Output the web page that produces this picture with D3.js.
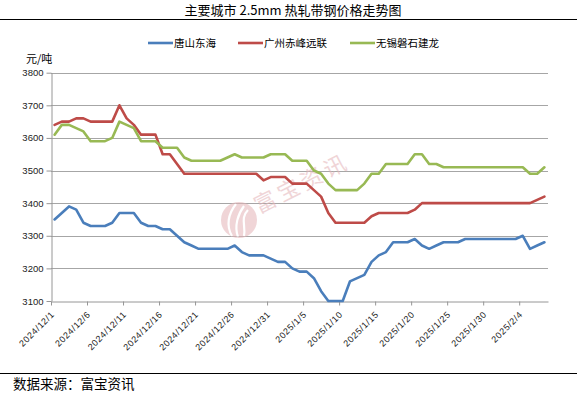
<!DOCTYPE html>
<html>
<head>
<meta charset="utf-8">
<script src="https://d3js.org/d3.v7.min.js"></script>
<style>
	body{
		margin:0;
		background:#fff;
	}
	svg text{
		font-family:"Liberation Sans", Arial, sans-serif;
	}
	.cjk{
		font-family:"Noto Sans CJK SC", sans-serif;
	}
	.grid line{
		stroke:#a6a6a6;
		stroke-width:1;
	}
	.axis path, .axis line{
		stroke:#969696;
	}
	.series{
		fill:none;
		stroke-width:2.6;
		stroke-linejoin:round;
		stroke-linecap:round;
	}
</style>
</head>
<body>
<div id="chart"></div>

<script>
// categories: one per day
var dates = [
	"2024/12/1","2024/12/2","2024/12/3","2024/12/4","2024/12/5","2024/12/6","2024/12/7","2024/12/8","2024/12/9","2024/12/10",
	"2024/12/11","2024/12/12","2024/12/13","2024/12/14","2024/12/15","2024/12/16","2024/12/17","2024/12/18","2024/12/19","2024/12/20",
	"2024/12/21","2024/12/22","2024/12/23","2024/12/24","2024/12/25","2024/12/26","2024/12/27","2024/12/28","2024/12/29","2024/12/30",
	"2024/12/31","2025/1/1","2025/1/2","2025/1/3","2025/1/4","2025/1/5","2025/1/6","2025/1/7","2025/1/8","2025/1/9",
	"2025/1/10","2025/1/11","2025/1/12","2025/1/13","2025/1/14","2025/1/15","2025/1/16","2025/1/17","2025/1/18","2025/1/19",
	"2025/1/20","2025/1/21","2025/1/22","2025/1/23","2025/1/24","2025/1/25","2025/1/26","2025/1/27","2025/1/28","2025/1/29",
	"2025/1/30","2025/1/31","2025/2/1","2025/2/2","2025/2/3","2025/2/4","2025/2/5","2025/2/6","2025/2/7"
];

var seriesNames = ["唐山东海", "广州赤峰远联", "无锡磐石建龙"];
var seriesColors = ["#4a7ebb", "#be4b48", "#98b954"];

var tangshan = [3350,3370,3390,3380,3340,3330,3330,3330,3340,3370,
	3370,3370,3340,3330,3330,3320,3320,3300,3280,3270,
	3260,3260,3260,3260,3260,3270,3250,3240,3240,3240,
	3230,3220,3220,3200,3190,3190,3170,3130,3100,3100,
	3100,3160,3170,3180,3220,3240,3250,3280,3280,3280,
	3290,3270,3260,3270,3280,3280,3280,3290,3290,3290,
	3290,3290,3290,3290,3290,3300,3260,3270,3280];

var guangzhou = [3640,3650,3650,3660,3660,3650,3650,3650,3650,3700,
	3660,3640,3610,3610,3610,3550,3550,3520,3490,3490,
	3490,3490,3490,3490,3490,3490,3490,3490,3490,3470,
	3480,3480,3480,3460,3460,3460,3440,3420,3370,3340,
	3340,3340,3340,3340,3360,3370,3370,3370,3370,3370,
	3380,3400,3400,3400,3400,3400,3400,3400,3400,3400,
	3400,3400,3400,3400,3400,3400,3400,3410,3420];

var wuxi = [3610,3640,3640,3630,3620,3590,3590,3590,3600,3650,
	3640,3630,3590,3590,3590,3570,3570,3570,3540,3530,
	3530,3530,3530,3530,3540,3550,3540,3540,3540,3540,
	3550,3550,3550,3530,3530,3530,3500,3490,3460,3440,
	3440,3440,3440,3460,3490,3490,3520,3520,3520,3520,
	3550,3550,3520,3520,3510,3510,3510,3510,3510,3510,
	3510,3510,3510,3510,3510,3510,3490,3490,3510];

var yTicks = [3100,3200,3300,3400,3500,3600,3700,3800];
var xTickLabels = ["2024/12/1","2024/12/6","2024/12/11","2024/12/16","2024/12/21","2024/12/26","2024/12/31",
	"2025/1/5","2025/1/10","2025/1/15","2025/1/20","2025/1/25","2025/1/30","2025/2/4"];

var W = 577, H = 395;
var plotL = 51, plotR = 548, plotT = 72.7, plotB = 301;

var svg = d3.select("#chart").append("svg")
	.attr("width", W)
	.attr("height", H);

svg.append("rect").attr("width", W).attr("height", H).attr("fill", "#fff");

var x = d3.scaleLinear().domain([0, dates.length]).range([plotL, plotR]);
var y = d3.scaleLinear().domain([3100, 3800]).range([plotB, plotT]);

// title + rule
svg.append("text")
	.attr("class", "cjk")
	.attr("x", 293).attr("y", 15)
	.attr("text-anchor", "middle")
	.style("font-size", "13px")
	.attr("fill", "#000")
	.text("主要城市 2.5mm 热轧带钢价格走势图");
svg.append("line")
	.attr("x1", 0).attr("x2", W)
	.attr("y1", 19.5).attr("y2", 19.5)
	.attr("stroke", "#000").attr("stroke-width", 1);

// legend
var legendX = [148, 238, 350];
var legend = svg.selectAll("g.legend")
	.data(seriesNames)
	.enter().append("g")
	.attr("class", "legend")
	.attr("transform", function(d, i){ return "translate(" + legendX[i] + ",43)"; });
legend.append("line")
	.attr("x1", 0).attr("x2", 25)
	.attr("stroke", function(d, i){ return seriesColors[i]; })
	.attr("stroke-width", 2.6);
legend.append("text")
	.attr("class", "cjk")
	.attr("x", 26).attr("y", 4)
	.style("font-size", "10.5px")
	.text(function(d){ return d; });

// unit
svg.append("text")
	.attr("class", "cjk")
	.attr("x", 26).attr("y", 63)
	.style("font-size", "11px")
	.text("元/吨");

// gridlines
svg.append("g").attr("class", "grid")
	.selectAll("line")
	.data(yTicks.slice(1))
	.enter().append("line")
	.attr("x1", plotL).attr("x2", plotR)
	.attr("y1", function(d){ return Math.round(y(d)) + 0.5; })
	.attr("y2", function(d){ return Math.round(y(d)) + 0.5; });

// watermark
var wm = svg.append("g").attr("opacity", 0.55);
wm.append("circle")
	.attr("cx", 239).attr("cy", 220).attr("r", 18)
	.attr("fill", "#e4b4b8");
wm.append("path")
	.attr("d", "M232,236 C226,226 228,214 236,204 M238,237 C234,226 238,214 244,206 M244,236 C246,226 240,218 248,210")
	.attr("fill", "none").attr("stroke", "#fff").attr("stroke-width", 2.2);
wm.append("text")
	.attr("class", "cjk")
	.attr("transform", "translate(259,214) rotate(-27)")
	.style("font-size", "22px")
	.style("letter-spacing", "4px")
	.attr("fill", "#e4b4b8")
	.text("富宝资讯");

// axes
var yAxis = d3.axisLeft(y).tickValues(yTicks).tickSize(5).tickSizeOuter(0).tickPadding(3)
	.tickFormat(d3.format("d"));
svg.append("g").attr("class", "axis")
	.attr("transform", "translate(" + (plotL + 0.5) + ",0)")
	.call(yAxis)
	.call(function(g){ g.selectAll("text").style("font-size", "9.5px").attr("fill", "#222"); });

var tickIdx = xTickLabels.map(function(l){ return dates.indexOf(l); });
var xAxis = d3.axisBottom(x).tickValues(tickIdx).tickSize(4).tickSizeOuter(0).tickFormat("");
svg.append("g").attr("class", "axis")
	.attr("transform", "translate(0," + (Math.round(plotB) + 0.5) + ")")
	.call(xAxis);

svg.append("g").selectAll("text")
	.data(tickIdx)
	.enter().append("text")
	.attr("transform", function(d){ return "translate(" + (x(d) + 4) + "," + (plotB + 14) + ") rotate(-45)"; })
	.attr("text-anchor", "end")
	.style("font-size", "9px")
	.style("letter-spacing", "0.6px")
	.attr("fill", "#222")
	.text(function(d, i){ return xTickLabels[i]; });

// series
var line = d3.line()
	.x(function(d, i){ return x(i + 0.5); })
	.y(function(d){ return y(d); });

svg.selectAll("path.series")
	.data([tangshan, guangzhou, wuxi])
	.enter().append("path")
	.attr("class", "series")
	.attr("stroke", function(d, i){ return seriesColors[i]; })
	.attr("d", line);

// footer
svg.append("line")
	.attr("x1", 0).attr("x2", W)
	.attr("y1", 373.5).attr("y2", 373.5)
	.attr("stroke", "#000").attr("stroke-width", 1);
svg.append("text")
	.attr("class", "cjk")
	.attr("x", 13).attr("y", 389)
	.style("font-size", "13.5px")
	.text("数据来源：富宝资讯");
</script>
</body>
</html>
